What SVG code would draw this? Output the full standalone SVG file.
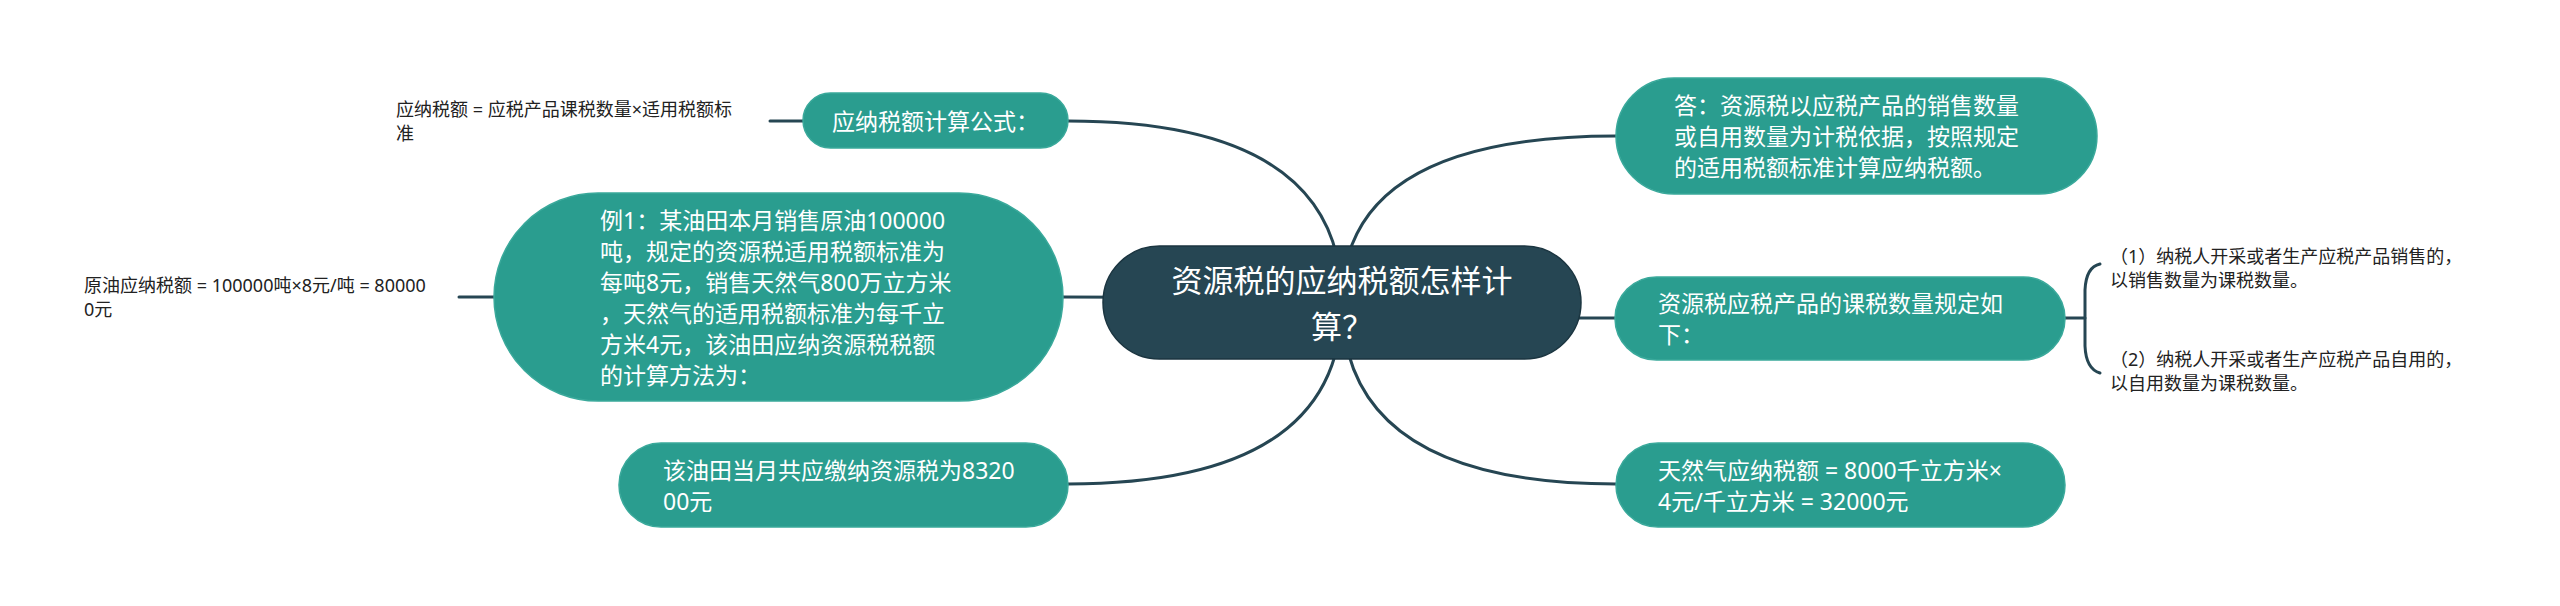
<svg xmlns="http://www.w3.org/2000/svg" width="2560" height="606" viewBox="0 0 2560 606">
<style>
.conn{fill:none;stroke:#264653;stroke-width:3;stroke-linecap:round}
.node{fill:#2a9d8f;stroke:#3aa99b;stroke-width:1.5}
.root{fill:#264653;stroke:#1b3540;stroke-width:1.5}
.nt{font-family:"Noto Sans","Noto Sans CJK SC",sans-serif;font-size:23px;fill:#ffffff;dominant-baseline:central}
.rt{font-family:"Noto Sans","Noto Sans CJK SC",sans-serif;font-size:31px;fill:#ffffff;dominant-baseline:central;text-anchor:middle}
.lt{font-family:"Noto Sans","Noto Sans CJK SC",sans-serif;font-size:18px;fill:#222222;dominant-baseline:central}
</style>
<rect width="2560" height="606" fill="#ffffff"/>
<g id="connectors">
<path class="conn" d="M1342,302 Q1342,121 1068,121"/>
<path class="conn" d="M1342,298 L1063,297"/>
<path class="conn" d="M1342,302 Q1342,484 1068,484"/>
<path class="conn" d="M1342,302 Q1342,136 1616,136"/>
<path class="conn" d="M1342,302 Q1342,318 1615,318"/>
<path class="conn" d="M1342,302 Q1342,484 1616,484"/>
<path class="conn" d="M770,121 L803,121"/>
<path class="conn" d="M459,297 L494,297"/>
<path class="conn" d="M2065,318 L2085,318"/>
<path class="conn" d="M2100,264 Q2086,267 2085,290 L2085,346 Q2086,369 2100,373"/>
</g>
<g id="root">
<rect class="root" x="1103" y="246" width="478" height="113" rx="56.5"/>
<text class="rt" x="1342" y="280">资源税的应纳税额怎样计</text>
<text class="rt" x="1342" y="326">算？</text>
</g>
<g id="node-formula">
<rect class="node" x="803" y="93" width="265" height="55" rx="27.5"/>
<text class="nt" x="832" y="121">应纳税额计算公式：</text>
</g>
<g id="leaf-formula">
<text class="lt" x="396" y="109">应纳税额 = 应税产品课税数量×适用税额标</text>
<text class="lt" x="396" y="133">准</text>
</g>
<g id="node-example">
<rect class="node" x="494" y="193" width="569" height="208" rx="104"/>
<text class="nt" x="600" y="219.5">例1：某油田本月销售原油100000</text>
<text class="nt" x="600" y="250.5">吨，规定的资源税适用税额标准为</text>
<text class="nt" x="600" y="281.5">每吨8元，销售天然气800万立方米</text>
<text class="nt" x="600" y="312.5">，天然气的适用税额标准为每千立</text>
<text class="nt" x="600" y="343.5">方米4元，该油田应纳资源税税额</text>
<text class="nt" x="600" y="374.5">的计算方法为：</text>
</g>
<g id="leaf-oil">
<text class="lt" x="84" y="285">原油应纳税额 = 100000吨×8元/吨 = 80000</text>
<text class="lt" x="84" y="309">0元</text>
</g>
<g id="node-total">
<rect class="node" x="619" y="443" width="449" height="84" rx="42"/>
<text class="nt" x="663" y="469.5">该油田当月共应缴纳资源税为8320</text>
<text class="nt" x="663" y="500.5">00元</text>
</g>
<g id="node-answer">
<rect class="node" x="1616" y="78" width="481" height="116" rx="58"/>
<text class="nt" x="1674" y="105">答：资源税以应税产品的销售数量</text>
<text class="nt" x="1674" y="136">或自用数量为计税依据，按照规定</text>
<text class="nt" x="1674" y="167">的适用税额标准计算应纳税额。</text>
</g>
<g id="node-quantity">
<rect class="node" x="1615" y="277" width="450" height="83" rx="41.5"/>
<text class="nt" x="1658" y="303">资源税应税产品的课税数量规定如</text>
<text class="nt" x="1658" y="334">下：</text>
</g>
<g id="leaf-q1">
<text class="lt" x="2110" y="256">（1）纳税人开采或者生产应税产品销售的，</text>
<text class="lt" x="2110" y="280">以销售数量为课税数量。</text>
</g>
<g id="leaf-q2">
<text class="lt" x="2110" y="359">（2）纳税人开采或者生产应税产品自用的，</text>
<text class="lt" x="2110" y="383">以自用数量为课税数量。</text>
</g>
<g id="node-gas">
<rect class="node" x="1616" y="443" width="449" height="84" rx="42"/>
<text class="nt" x="1658" y="469.5">天然气应纳税额 = 8000千立方米×</text>
<text class="nt" x="1658" y="500.5">4元/千立方米 = 32000元</text>
</g>
</svg>
